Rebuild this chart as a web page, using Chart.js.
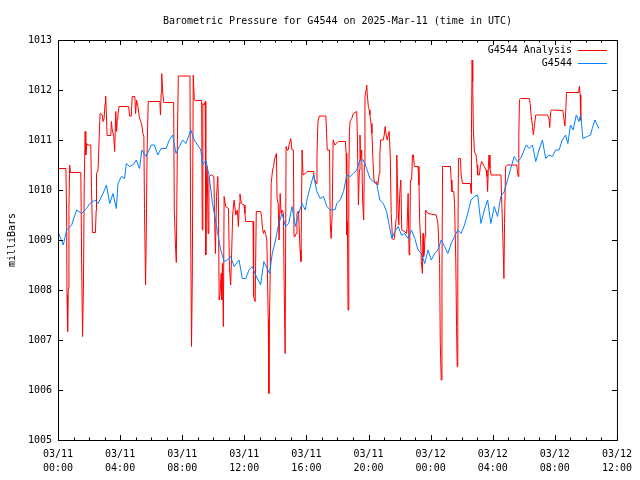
<!DOCTYPE html>
<html>
<head>
<meta charset="utf-8">
<script src="https://cdn.jsdelivr.net/npm/chart.js@4/dist/chart.umd.min.js"></script>
<style>
  html, body { margin: 0; padding: 0; background: #fff; }
  #wrap { width: 640px; height: 480px; }
</style>
</head>
<body>
<div id="wrap"><canvas id="chart" width="640" height="480"></canvas></div>
<script>
// hours since 2025-03-11 00:00 UTC
const obsHours = [
  0, 0.34, 0.56, 0.88, 1.2, 1.52, 1.84, 2.05, 2.37, 2.58, 2.9, 3.12, 3.33, 3.54, 3.76, 3.86,
  4.08, 4.29, 4.4, 4.61, 4.82, 5.04, 5.25, 5.4, 5.68, 6.0, 6.21, 6.43, 6.64, 6.96, 7.17, 7.39,
  7.6, 7.81, 8.03, 8.24, 8.56, 8.77, 8.99, 9.2, 9.31, 9.52, 9.74, 9.95, 10.16, 10.27, 10.48, 10.7,
  10.91, 11.12, 11.34, 11.66, 11.87, 12.09, 12.3, 12.51, 12.73, 13.05, 13.26, 13.47, 13.63, 13.8,
  14.01, 14.22, 14.43, 14.65, 14.86, 15.07, 15.29, 15.5, 15.71, 15.93, 16.03, 16.25, 16.46, 16.67,
  16.89, 17.1, 17.32, 17.53, 17.85, 17.96, 18.17, 18.39, 18.6, 18.81, 19.03, 19.24, 19.45, 19.67,
  19.88, 20.09, 20.31, 20.52, 20.73, 20.95, 21.16, 21.33, 21.5, 21.7, 21.91, 22.12, 22.33, 22.55,
  22.76, 22.98, 23.19, 23.4, 23.62, 23.83, 24.04, 24.26, 24.47, 24.68, 24.9, 25.11, 25.32, 25.54,
  25.75, 25.96, 26.18, 26.39, 26.6, 26.82, 27.03, 27.24, 27.46, 27.67, 27.88, 28.1, 28.31, 28.52,
  28.74, 28.95, 29.16, 29.38, 29.59, 29.8, 30.02, 30.17, 30.34, 30.56, 30.77, 30.98, 31.2, 31.41,
  31.62, 31.84, 32.05, 32.27, 32.48, 32.69, 32.84, 33.01, 33.18, 33.38, 33.55, 33.66, 33.81, 34.09,
  34.3, 34.41, 34.58, 34.84
];
const obsValues = [
  1009.17, 1008.9, 1009.2, 1009.3, 1009.6, 1009.53, 1009.63, 1009.73, 1009.8, 1009.73, 1009.93, 1010.1, 1009.73, 1009.93, 1009.63, 1010.13,
  1010.27, 1010.23, 1010.53, 1010.47, 1010.5, 1010.6, 1010.43, 1010.8, 1010.67, 1010.9, 1010.9, 1010.7, 1010.83, 1010.83, 1011.0, 1011.1,
  1010.73, 1010.87, 1011.0, 1010.93, 1011.2, 1011.0, 1010.9, 1010.8, 1010.5, 1010.6, 1010.27, 1009.73, 1009.37, 1009.17, 1008.8, 1008.57,
  1008.6, 1008.67, 1008.47, 1008.6, 1008.23, 1008.23, 1008.4, 1008.47, 1008.3, 1008.1, 1008.57, 1008.43, 1008.33, 1008.73,
  1009.0, 1009.33, 1009.53, 1009.27, 1009.33, 1009.67, 1009.27, 1009.53, 1009.73, 1009.6, 1009.8, 1010.07, 1010.3, 1009.97,
  1009.83, 1009.87, 1009.67, 1009.6, 1009.61, 1009.73, 1009.8, 1009.97, 1010.3, 1010.27, 1010.33, 1010.4, 1010.6, 1010.6,
  1010.43, 1010.23, 1010.17, 1010.13, 1009.8, 1009.73, 1009.57, 1009.3, 1009.03, 1009.17, 1009.27, 1009.1, 1009.13, 1009.03,
  1009.2, 1009.03, 1008.8, 1008.73, 1008.53, 1008.8, 1008.6, 1008.73, 1008.8, 1009.0, 1008.87, 1008.73, 1008.93, 1009.07,
  1009.2, 1009.13, 1009.3, 1009.53, 1009.8, 1009.87, 1009.9, 1009.33, 1009.6, 1009.8, 1009.33, 1009.67, 1009.47, 1009.87,
  1009.97, 1010.2, 1010.43, 1010.67, 1010.57, 1010.63, 1010.8, 1010.9, 1010.83, 1010.9, 1010.57, 1010.8, 1011.0, 1010.63,
  1010.7, 1010.67, 1010.8, 1010.8, 1011.0, 1011.1, 1010.93, 1011.3, 1011.2, 1011.5, 1011.37, 1011.5, 1011.03, 1011.07,
  1011.1, 1011.23, 1011.4, 1011.23
];

const anaHours = [
  0, 0.51, 0.555, 0.58, 0.62, 0.66, 0.705, 0.75, 0.81, 1.47, 1.52, 1.58, 1.64, 1.69, 1.75, 1.79,
  1.86, 1.92, 2.11, 2.16, 2.22, 2.41, 2.46, 2.48, 2.58, 2.65, 2.71, 2.86, 2.90, 2.97, 3.03, 3.07,
  3.12, 3.16, 3.40, 3.44, 3.48, 3.59, 3.65, 3.72, 3.78, 3.82, 3.86, 3.93, 4.55, 4.61, 4.72, 4.78,
  4.95, 5.0, 5.06, 5.15, 5.23, 5.32, 5.40, 5.47, 5.53, 5.57, 5.64, 5.68, 5.74, 5.81, 6.56, 6.60,
  6.64, 6.68, 6.75, 6.81, 7.45, 7.49, 7.56, 7.62, 7.69, 7.75, 8.50, 8.54, 8.60, 8.65, 8.71, 8.78,
  8.84, 9.25, 9.29, 9.33, 9.42, 9.48, 9.52, 9.57, 9.61, 9.67, 9.72, 9.89, 10.04, 10.08, 10.14, 10.21,
  10.29, 10.33, 10.38, 10.44, 10.51, 10.55, 10.59, 10.65, 10.70, 10.80, 10.98, 11.04, 11.12, 11.19, 11.25, 11.34,
  11.45, 11.55, 11.62, 11.68, 11.72, 11.81, 11.98, 12.04, 12.09, 12.56, 12.60, 12.70, 12.77, 13.05, 13.11, 13.17,
  13.24, 13.30, 13.37, 13.45, 13.54, 13.58, 13.62, 13.67, 13.73, 13.82, 13.88, 13.94, 14.03, 14.07, 14.11, 14.18,
  14.24, 14.31, 14.37, 14.43, 14.52, 14.56, 14.63, 14.69, 14.75, 14.82, 14.88, 14.99, 15.07, 15.16, 15.20, 15.27,
  15.33, 15.39, 15.46, 15.50, 15.59, 15.65, 15.72, 15.78, 15.93, 16.04, 16.46, 16.51, 16.63, 16.68, 16.74, 16.83,
  17.25, 17.30, 17.34, 17.49, 17.53, 17.59, 17.66, 17.72, 17.83, 17.91, 18.06, 18.51, 18.56, 18.60, 18.64, 18.68,
  18.73, 18.77, 18.81, 18.92, 19.02, 19.24, 19.28, 19.35, 19.41, 19.45, 19.49, 19.56, 19.62, 19.69, 19.73, 19.77,
  19.84, 19.88, 19.92, 19.99, 20.05, 20.09, 20.16, 20.22, 20.28, 20.35, 20.43, 20.52, 20.60, 20.69, 20.73, 20.78,
  20.95, 21.01, 21.07, 21.14, 21.20, 21.27, 21.33, 21.40, 21.46, 21.54, 21.61, 21.67, 21.78, 21.82, 21.89, 21.95,
  22.01, 22.08, 22.14, 22.33, 22.44, 22.48, 22.55, 22.61, 22.65, 22.70, 22.78, 22.83, 22.89, 22.95, 23.19, 23.25,
  23.30, 23.36, 23.40, 23.47, 23.51, 23.55, 23.59, 23.64, 23.68, 23.83, 24.36, 24.47, 24.58, 24.62, 24.68, 24.73,
  24.77, 25.28, 25.32, 25.37, 25.49, 25.54, 25.62, 25.67, 25.71, 25.75, 25.79, 25.92, 25.96, 26.05, 26.56, 26.60,
  26.63, 26.67, 26.71, 26.75, 26.82, 26.93, 26.99, 27.03, 27.14, 27.20, 27.29, 27.46, 27.57, 27.63, 27.67, 27.72,
  27.76, 27.82, 27.89, 28.53, 28.59, 28.65, 28.72, 28.76, 28.83, 28.95, 29.55, 29.59, 29.64, 29.68, 29.72, 29.81,
  30.36, 30.41, 30.47, 30.56, 30.62, 30.70, 30.77, 31.52, 31.62, 31.67, 31.73, 31.77, 32.52, 32.58, 32.65, 32.71,
  32.75, 33.50, 33.54, 33.59, 33.63, 33.67, 33.72
];
const anaValues = [
  1010.43, 1010.43, 1009.5, 1007.9, 1007.17, 1008.03, 1009.67, 1010.5, 1010.35, 1010.35, 1008.63, 1007.07, 1008.1, 1010.13, 1011.17, 1010.7,
  1010.93, 1010.9, 1010.9, 1010.03, 1009.15, 1009.15, 1009.6, 1010.33, 1010.4, 1011.02, 1011.53, 1011.5, 1011.37, 1011.43, 1011.73, 1011.88,
  1011.5, 1011.09, 1011.09, 1011.37, 1011.23, 1011.07, 1010.77, 1011.57, 1011.17, 1011.43, 1011.5, 1011.67, 1011.67, 1011.48, 1011.48, 1011.87,
  1011.87, 1011.53, 1011.8, 1011.67, 1011.47, 1011.37, 1011.3, 1011.13, 1011.07, 1009.63, 1008.1, 1009.0, 1010.8, 1011.77, 1011.77, 1011.5,
  1011.93, 1012.33, 1011.93, 1011.75, 1011.75, 1009.6, 1008.93, 1008.55, 1011.0, 1012.28, 1012.28, 1009.4, 1006.87, 1008.23, 1012.3, 1011.8,
  1011.79, 1011.79, 1009.2, 1011.73, 1011.7, 1011.77, 1008.7, 1010.3, 1010.47, 1009.13, 1010.27, 1010.3, 1010.27, 1009.53, 1008.73, 1009.87,
  1010.27, 1009.87, 1007.8, 1007.93, 1008.33, 1007.8, 1008.53, 1007.27, 1009.87, 1009.67, 1009.63, 1008.47, 1008.1, 1008.8, 1009.5, 1009.8,
  1009.5, 1009.6, 1009.27, 1009.73, 1009.92, 1009.73, 1009.7, 1009.53, 1009.37, 1009.37, 1007.87, 1007.77, 1009.57, 1009.57, 1009.47, 1009.23,
  1009.13, 1009.2, 1009.13, 1009.0, 1007.43, 1005.93, 1007.43, 1008.37, 1010.13, 1010.4, 1010.47, 1010.6, 1010.7, 1010.73, 1009.83, 1009.73,
  1009.0, 1009.93, 1009.53, 1009.6, 1009.53, 1008.2, 1006.73, 1010.87, 1010.8, 1010.8, 1010.9, 1011.03, 1010.8, 1010.8, 1009.07, 1009.07,
  1009.13, 1009.53, 1009.57, 1009.53, 1008.8, 1008.57, 1010.8, 1010.3, 1010.33, 1010.37, 1010.37, 1010.23, 1010.13, 1010.67, 1011.37, 1011.48,
  1011.48, 1011.13, 1010.8, 1010.8, 1009.37, 1009.03, 1009.53, 1011.0, 1010.9, 1010.93, 1010.97, 1010.97, 1010.73, 1009.1, 1009.37, 1007.6,
  1010.3, 1011.17, 1011.37, 1011.43, 1011.53, 1011.57, 1011.1, 1009.7, 1010.4, 1011.1, 1010.6, 1010.8, 1009.77, 1009.4, 1010.5, 1011.87,
  1012.0, 1012.1, 1011.9, 1011.67, 1011.6, 1011.5, 1011.33, 1011.13, 1010.63, 1010.2, 1010.13, 1010.17, 1010.1, 1010.33, 1010.73, 1011.0,
  1011.0, 1011.1, 1011.27, 1011.1, 1011.0, 1011.1, 1011.17, 1010.67, 1009.53, 1009.03, 1009.0, 1009.03, 1009.43, 1010.7, 1009.8, 1009.3,
  1009.93, 1010.2, 1009.2, 1009.17, 1009.13, 1009.23, 1009.93, 1008.73, 1008.7, 1010.2, 1010.2, 1010.7, 1010.7, 1010.47, 1010.47, 1010.1,
  1009.33, 1009.0, 1008.57, 1008.33, 1009.13, 1008.67, 1008.73, 1009.07, 1009.6, 1009.53, 1009.5, 1009.33, 1008.53, 1006.97, 1006.2, 1008.33,
  1010.47, 1010.47, 1010.2, 1009.97, 1009.97, 1009.73, 1008.6, 1007.27, 1006.47, 1008.53, 1010.63, 1010.63, 1010.33, 1010.13, 1010.13, 1009.93,
  1011.13, 1012.6, 1012.17, 1011.23, 1010.77, 1010.7, 1010.5, 1010.3, 1010.3, 1010.47, 1010.57, 1010.47, 1010.4, 1010.27, 1009.97, 1010.47,
  1010.7, 1010.43, 1010.3, 1010.3, 1009.67, 1009.07, 1008.23, 1009.33, 1010.47, 1010.5, 1010.5, 1010.37, 1010.27, 1011.07, 1011.8, 1011.83,
  1011.83, 1011.73, 1011.5, 1011.27, 1011.1, 1011.33, 1011.5, 1011.5, 1011.43, 1011.25, 1011.57, 1011.6, 1011.59, 1011.43, 1011.28, 1011.63,
  1011.95, 1011.95, 1012.0, 1012.08, 1011.9, 1011.4, 1011.38
];

const seriesNames = ['G4544 Analysis', 'G4544'];
const seriesColors = ['#ff0000', '#0080ff'];
const yMin = 1005, yMax = 1013;
const xMin = 0, xMax = 36;

const FONT = "'DejaVu Sans Mono', 'Liberation Mono', monospace";

function hourLabel(h) {
    const day = 11 + Math.floor(h / 24);
    const hh = String(h % 24).padStart(2, '0');
    return ['03/' + day, hh + ':00'];
}

// gnuplot style frame, inward ticks and in-plot legend
const gnuFrame = {
    id: 'gnuFrame',
    afterDatasetsDraw(chart) {
        const { ctx, chartArea: a, scales } = chart;
        ctx.save();
        ctx.strokeStyle = '#000';
        ctx.lineWidth = 1;
        ctx.strokeRect(a.left + 0.5, a.top + 0.5, a.right - a.left, a.bottom - a.top);

        ctx.beginPath();
        for (let v = yMin; v <= yMax; v++) {
            const y = Math.round(scales.y.getPixelForValue(v)) + 0.5;
            ctx.moveTo(a.left, y); ctx.lineTo(a.left + 5, y);
            ctx.moveTo(a.right, y); ctx.lineTo(a.right - 5, y);
        }
        for (let h = xMin; h <= xMax; h++) {
            const x = Math.round(scales.x.getPixelForValue(h)) + 0.5;
            const len = h % 4 === 0 ? 5 : 2.5;
            ctx.moveTo(x, a.bottom); ctx.lineTo(x, a.bottom - len);
            ctx.moveTo(x, a.top); ctx.lineTo(x, a.top + len);
        }
        ctx.stroke();

        // legend
        ctx.font = '10px ' + FONT;
        ctx.fillStyle = '#000';
        ctx.textAlign = 'right';
        ctx.textBaseline = 'middle';
        seriesNames.forEach((name, i) => {
            const y = a.top + 10 + i * 13;
            ctx.fillText(name, a.right - 45, y);
            ctx.strokeStyle = seriesColors[i];
            ctx.beginPath();
            ctx.moveTo(a.right - 39, y + 0.5);
            ctx.lineTo(a.right - 10, y + 0.5);
            ctx.stroke();
        });
        ctx.restore();
    }
};

const ctx = document.getElementById('chart');
new Chart(ctx, {
    type: 'line',
    data: {
        datasets: [
            {
                label: seriesNames[0],
                data: anaHours.map((h, i) => ({ x: h, y: anaValues[i] })),
                borderColor: seriesColors[0],
                borderWidth: 1,
                pointRadius: 0,
                tension: 0,
                order: 1
            },
            {
                label: seriesNames[1],
                data: obsHours.map((h, i) => ({ x: h, y: obsValues[i] })),
                borderColor: seriesColors[1],
                borderWidth: 1,
                pointRadius: 0,
                tension: 0,
                order: 0
            }
        ]
    },
    options: {
        responsive: false,
        animation: false,
        events: [],
        layout: { padding: { left: 0, right: 20, top: 0, bottom: 0 } },
        plugins: {
            legend: { display: false },
            tooltip: { enabled: false },
            title: {
                display: true,
                fullSize: false,
                text: 'Barometric Pressure for G4544 on 2025-Mar-11 (time in UTC)',
                color: '#000',
                font: { family: FONT, size: 10, weight: 'normal', lineHeight: 1.2 },
                padding: { top: 15, bottom: 13 }
            }
        },
        scales: {
            x: {
                type: 'linear',
                min: xMin,
                max: xMax,
                afterFit: s => { s.height = 40; },
                afterBuildTicks: s => {
                    s.ticks = [];
                    for (let h = xMin; h <= xMax; h += 4) s.ticks.push({ value: h });
                },
                grid: { display: false, drawTicks: false },
                border: { display: false },
                ticks: {
                    autoSkip: false,
                    maxRotation: 0,
                    padding: 8,
                    color: '#000',
                    font: { family: FONT, size: 10, lineHeight: 1.35 },
                    callback: v => hourLabel(v)
                }
            },
            y: {
                min: yMin,
                max: yMax,
                afterFit: s => { s.width = 58; },
                grid: { display: false, drawTicks: false },
                border: { display: false },
                ticks: {
                    stepSize: 1,
                    padding: 6,
                    color: '#000',
                    font: { family: FONT, size: 10 },
                    callback: v => String(v)
                },
                title: {
                    display: true,
                    text: 'milliBars',
                    color: '#000',
                    font: { family: FONT, size: 10, lineHeight: 1.2 },
                    padding: { top: 6, bottom: 0 }
                }
            }
        }
    },
    plugins: [gnuFrame]
});
</script>
</body>
</html>
